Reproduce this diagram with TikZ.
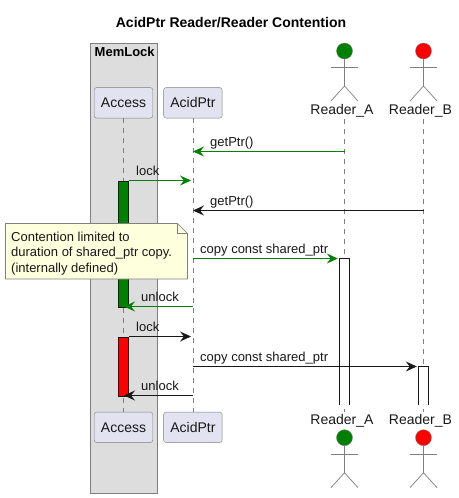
\documentclass[tikz,border=0pt]{standalone}
\usepackage{fontspec}
\setmainfont{Liberation Sans}
\usepackage{xcolor}
\definecolor{partfill}{HTML}{E2E2F0}
\definecolor{notefill}{HTML}{FEFFDD}
\definecolor{boxfill}{HTML}{DDDDDD}
\definecolor{edgegray}{HTML}{7F7F7F}
\definecolor{inkblack}{HTML}{181818}
\definecolor{lockgreen}{HTML}{008000}
\usetikzlibrary{positioning,arrows.meta}
\tikzset{
  actor/.pic={
    \node[head, fill=#1] (-head) {};
    \draw[stick] (-head.south) -- (0,35) coordinate (-hip);
    \draw[stick] (-13.5,16.5) -- (13.5,16.5);
    \draw[stick] (-13.5,50) -- (-hip) -- (13.5,50);
  }
}
\begin{document}
\begin{tikzpicture}[x=1pt,y=-1pt,
  part/.style={draw=edgegray, rounded corners=2.5pt, fill=partfill, inner sep=0pt, minimum width=58.5pt, minimum height=30.5pt, font=\fontsize{14}{16}\selectfont, text=inkblack},
  rname/.style={inner sep=0pt, minimum height=16pt, font=\fontsize{14}{16}\selectfont, text=inkblack},
  head/.style={circle, draw=edgegray, inner sep=0pt, minimum size=16pt},
  stick/.style={draw=edgegray, line width=.7pt},
  life/.style={draw=edgegray, dash pattern=on 5pt off 5pt, line width=.7pt},
  bar/.style={draw=inkblack, line width=.8pt, inner sep=0pt, minimum width=10pt, anchor=north},
  openbar/.style={fill=white, inner sep=0pt, minimum width=10pt, anchor=north},
  msg/.style={-{Stealth[length=11pt, width=10pt, inset=4pt]}, line width=.9pt, inkblack},
  gmsg/.style={msg, lockgreen},
  mtext/.style={inner sep=0pt, anchor=base west, font=\fontsize{13}{15}\selectfont, text=inkblack}]
  \useasboundingbox (0,0) rectangle (458,498);
  \node[font=\fontsize{14}{16}\selectfont\bfseries, text=black] (title) at (231,23) {AcidPtr Reader/Reader Contention};

  % group box and participants
  \draw[draw=edgegray, fill=boxfill, line width=.8pt] (90.5,43.5) rectangle (157,493);
  \node[anchor=base west, inner sep=0pt, font=\fontsize{13}{15}\selectfont\bfseries, text=black] (group) at (94.5,56) {MemLock};
  \node[part] (access) at (123.5,102.8) {Access};
  \node[part, right=10.5pt of access] (acid) {AcidPtr};
  \node[part] (accessb) at (123.5,427.3) {Access};
  \node[part, right=10.5pt of accessb] (acidb) {AcidPtr};

  % readers
  \pic (actA) at (344.5,51) {actor=lockgreen};
  \pic (actB) at (423.5,51) {actor=red};
  \node[rname] (nameA) at (342,111) {Reader\_A};
  \node[rname] (nameB) at (420.5,111) {Reader\_B};
  \node[rname] (nameAb) at (342,421) {Reader\_A};
  \node[rname] (nameBb) at (420.5,421) {Reader\_B};
  \pic (actAb) at (344.5,437.7) {actor=lockgreen};
  \pic (actBb) at (423.5,437.7) {actor=red};

  % lifelines
  \coordinate (lifeA) at (344.5,119);
  \coordinate (lifeAb) at (344.5,412);
  \coordinate (lifeB) at (423.5,119);
  \coordinate (lifeBb) at (423.5,412);
  \draw[life] (access) -- (accessb);
  \draw[life] (acid) -- (acidb);
  \draw[life] (lifeA) -- (lifeAb);
  \draw[life] (lifeB) -- (lifeBb);

  % activations
  \node[bar, fill=lockgreen, minimum height=126pt] (lockA) at (123.5,180.5) {};
  \node[bar, fill=red, minimum height=59pt] (lockB) at (123.5,336.5) {};
  \node[openbar, minimum height=146.5pt] (readA) at (344.5,258.5) {};
  \node[openbar, minimum height=38.5pt] (readB) at (423.5,366.5) {};
  \draw[inkblack, line width=.8pt] (readA.south west) |- (readA.north east) -- (readA.south east);
  \draw[inkblack, line width=.8pt] (readB.south west) |- (readB.north east) -- (readB.south east);

  % message ends on the lifelines
  \coordinate (a1) at (344.5,151.5);
  \coordinate (p1) at (193,151.5);
  \coordinate (p2) at (191,180.5);
  \coordinate (b3) at (423.5,210.5);
  \coordinate (p3) at (193,210.5);
  \coordinate (p4) at (192.5,258.5);
  \coordinate (p5) at (192.5,306.5);
  \coordinate (l5) at (124,306.5);
  \coordinate (p6) at (191,336.5);
  \coordinate (p7) at (192.5,366.5);
  \coordinate (p8) at (192.5,395.5);
  \coordinate (l8) at (124,395.5);

  \draw[gmsg] (a1) -- (p1);
  \draw[gmsg] (lockA.north east) -- (p2);
  \draw[msg] (b3) -- (p3);
  \draw[gmsg, shorten >=1.5pt] (p4) -- (readA.north west);
  \draw[gmsg] (p5) -- (l5);
  \draw[msg] (lockB.north east) -- (p6);
  \draw[msg, shorten >=1.5pt] (p7) -- (readB.north west);
  \draw[msg] (p8) -- (l8);

  \node[mtext] (t1) at (210,146.5) {getPtr()};
  \node[mtext] (t2) at (136,175.5) {lock};
  \node[mtext] (t3) at (210,205.5) {getPtr()};
  \node[mtext] (t4) at (200,253) {copy const shared\_ptr};
  \node[mtext] (t5) at (141,301.5) {unlock};
  \node[mtext] (t6) at (136,331) {lock};
  \node[mtext] (t7) at (200,361) {copy const shared\_ptr};
  \node[mtext] (t8) at (141,390.5) {unlock};

  % note
  \draw[draw=edgegray, fill=notefill, line width=.7pt] (5.5,223.5) -- (177.5,223.5) -- (187.5,233.5) -- (187.5,279) -- (5.5,279) -- cycle;
  \draw[draw=edgegray, line width=.7pt] (177.5,223.5) -- (177.5,233.5) -- (187.5,233.5);
  \node[anchor=north west, inner sep=0pt, align=left, font=\fontsize{13}{15.6}\selectfont, text=inkblack] (note) at (11,231.5) {Contention limited to\\duration of shared\_ptr copy.\\(internally defined)};
\end{tikzpicture}
\end{document}
